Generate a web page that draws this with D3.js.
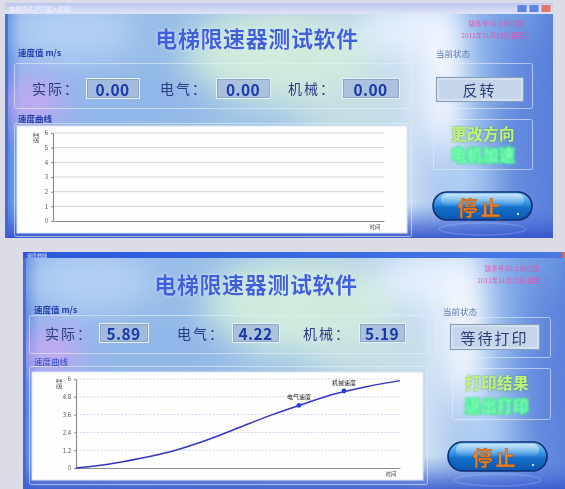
<!DOCTYPE html>
<html>
<head>
<meta charset="utf-8">
<script src="https://cdn.jsdelivr.net/npm/d3@7"></script>
<style>
  html, body { margin: 0; padding: 0; background: #dcdce6; overflow: hidden; }
  svg { display: block; }
  text { font-family: 'Noto Sans CJK SC', 'Noto Sans', sans-serif; }
</style>
</head>
<body>
<div id="chart"></div>
<script>
// ---- data ----
const speedNames = ['实际：', '电气：', '机械：'];
const speedsIdle = [0.00, 0.00, 0.00];
const speedsDone = [5.89, 4.22, 5.19];
const states = ['反转', '等待打印'];
const menuIdle = ['更改方向', '电机加速'];
const menuDone = ['打印结果', '退出打印'];
const yTicksIdle = [0, 1, 2, 3, 4, 5, 6];
const yTicksDone = [0, 1.2, 2.4, 3.6, 4.8, 6];
const curveTime = [0, 10, 20, 30, 40, 50, 60, 70, 80, 90, 100];
const curveSpeed = [0, 0.25, 0.65, 1.15, 1.85, 2.7, 3.55, 4.3, 5.0, 5.5, 5.89];
const markerNames = ['电气速度', '机械速度'];
const markerTime = [68.8, 82.7];
const markerSpeed = [4.22, 5.19];

const TITLE = '电梯限速器测试软件';
const PINK = ['版本号 V2.1 测试版', '2011年11月15日 星期二'];

// ---- layout of the two windows (pixel positions) ----
const LAYOUTS = [
  {
    win: [5, 3, 548, 235], barH: 11, barDark: false, barText: '电梯测试 (PCI插入位置)',
    titleX: 257, titleY: 37, pinkX: 496, pinkY: [23, 35],
    speedLabel: [18, 56], speedBox: [14, 63, 397, 45],
    rowY: 88, nameX: [32, 160, 288], valBox: [[86, 139], [216, 270], [342, 399]], valTop: 78, valH: 20,
    stateLabel: [436, 57], stateGroup: [424, 63, 108, 45], stateBox: [436, 77, 87, 24],
    chartLabel: [18, 122], chartFrame: [14, 123, 397, 113], chartBox: [17, 126, 390, 107],
    plot: [53, 133, 384, 221],
    menuBox: [433, 119, 99, 50], menuX: 483, menuY: [133, 154],
    button: [433, 192, 99, 28]
  },
  {
    win: [23, 252, 552, 240], barH: 6, barDark: true, barText: '速度曲线',
    titleX: 256, titleY: 283, pinkX: 512, pinkY: [268, 280],
    speedLabel: [34, 313], speedBox: [29, 315, 398, 38],
    rowY: 333, nameX: [45, 177, 303], valBox: [[99, 148], [232, 279], [359, 405]], valTop: 323, valH: 19,
    stateLabel: [443, 315], stateGroup: [436, 317, 114, 40], stateBox: [450, 324, 89, 25],
    chartLabel: [34, 365], chartFrame: [29, 366, 398, 118], chartBox: [32, 372, 391, 108],
    plot: [76, 379, 400, 468],
    menuBox: [452, 368, 98, 51], menuX: 497, menuY: [382, 405],
    button: [448, 442, 99, 29]
  }
];

const svg = d3.select('#chart').append('svg')
  .attr('width', 565).attr('height', 489);

const defs = svg.append('defs');

defs.append('filter').attr('id', 'soft')
  .attr('x', '-60%').attr('y', '-60%').attr('width', '220%').attr('height', '220%')
  .append('feGaussianBlur').attr('stdDeviation', 16);

defs.append('filter').attr('id', 'smallBlur')
  .append('feGaussianBlur').attr('stdDeviation', 0.45);

// title glow
const tg = defs.append('filter').attr('id', 'titleGlow')
  .attr('x', '-20%').attr('y', '-40%').attr('width', '140%').attr('height', '180%');
tg.append('feGaussianBlur').attr('in', 'SourceAlpha').attr('stdDeviation', 1.8).attr('result', 'b');
tg.append('feFlood').attr('flood-color', '#e6f0ff').attr('flood-opacity', 0.9);
tg.append('feComposite').attr('in2', 'b').attr('operator', 'in').attr('result', 'glow');
tg.append('feGaussianBlur').attr('in', 'SourceGraphic').attr('stdDeviation', 0.4).attr('result', 's');
const tgm = tg.append('feMerge');
tgm.append('feMergeNode').attr('in', 'glow');
tgm.append('feMergeNode').attr('in', 's');

// green glow for menu text
const gg = defs.append('filter').attr('id', 'greenGlow')
  .attr('x', '-20%').attr('y', '-40%').attr('width', '140%').attr('height', '180%');
gg.append('feGaussianBlur').attr('in', 'SourceAlpha').attr('stdDeviation', 1.2).attr('result', 'b');
gg.append('feFlood').attr('flood-color', '#2f8f55').attr('flood-opacity', 0.8);
gg.append('feComposite').attr('in2', 'b').attr('operator', 'in').attr('result', 'glow');
gg.append('feGaussianBlur').attr('in', 'SourceGraphic').attr('stdDeviation', 0.35).attr('result', 's');
const ggm = gg.append('feMerge');
ggm.append('feMergeNode').attr('in', 'glow');
ggm.append('feMergeNode').attr('in', 's');

const bright = defs.append('filter').attr('id', 'brightGlow')
  .attr('x', '-20%').attr('y', '-50%').attr('width', '140%').attr('height', '200%');
bright.append('feMorphology').attr('in', 'SourceAlpha').attr('operator', 'dilate').attr('radius', 1.4).attr('result', 'd');
bright.append('feGaussianBlur').attr('in', 'd').attr('stdDeviation', 1.1).attr('result', 'b');
bright.append('feFlood').attr('flood-color', '#36e48a');
bright.append('feComposite').attr('in2', 'b').attr('operator', 'in').attr('result', 'glow');
bright.append('feGaussianBlur').attr('in', 'SourceGraphic').attr('stdDeviation', 0.8).attr('result', 's');
const bm = bright.append('feMerge');
bm.append('feMergeNode').attr('in', 'glow');
bm.append('feMergeNode').attr('in', 's');

// gradients
function linear(id, stops, vertical) {
  const gr = defs.append('linearGradient').attr('id', id)
    .attr('x1', 0).attr('y1', 0).attr('x2', vertical ? 0 : 1).attr('y2', vertical ? 1 : 0);
  stops.forEach(s => gr.append('stop').attr('offset', s[0]).attr('stop-color', s[1])
    .attr('stop-opacity', s[2] === undefined ? 1 : s[2]));
}
linear('winBase', [[0, '#4f7ee0'], [0.03, '#8cb2ea'], [0.3, '#98bee8'], [0.55, '#a6c8e6'],
  [0.74, '#c8dcf2'], [0.84, '#8ab2ea'], [0.96, '#6c98e2'], [1, '#5a84da']]);
linear('winShade', [[0, '#ffffff', 0], [0.85, '#5d86dc', 0], [0.95, '#4464d4', 0.7], [1, '#3050c8', 0.9]], true);
linear('barLight', [[0, '#bac6ee'], [1, '#dfe4f6']], true);
linear('barDark', [[0, '#2a58d8'], [1, '#4b7ae6']], false);
linear('pill', [[0, '#8fd0f8'], [0.45, '#2d8ade'], [0.55, '#1670c8'], [1, '#0b56b0']], true);
linear('gloss', [[0, '#ffffff', 0.55], [1, '#ffffff', 0.05]], true);

// ---- drawing helpers ----
function drawWindow(L, i) {
  const [wx, wy, ww, wh] = L.win;
  const g = svg.append('g');
  const clipId = 'clip' + i;
  defs.append('clipPath').attr('id', clipId)
    .append('rect').attr('x', wx).attr('y', wy).attr('width', ww).attr('height', wh);
  g.attr('clip-path', `url(#${clipId})`);

  g.append('rect').attr('x', wx).attr('y', wy).attr('width', ww).attr('height', wh)
    .attr('fill', 'url(#winBase)');

  // soft colour blobs of the skin
  const blobs = [
    [0.50, 0.22, 0.17, 0.20, '#d4f0dc', 0.9],
    [0.62, 0.42, 0.10, 0.18, '#cfe8e0', 0.6],
    [0.12, 0.12, 0.12, 0.13, '#c4dcf6', 0.7],
    [0.80, 0.30, 0.04, 0.35, '#ffffff', 0.95],
    [0.72, 0.12, 0.08, 0.10, '#eef6ff', 0.8],
    [0.05, 0.42, 0.06, 0.10, '#d8a6f2', 0.8],
    [0.30, 0.40, 0.10, 0.10, '#8aaee8', 0.5],
    [0.96, 0.55, 0.05, 0.45, '#5676d8', 0.6],
    [0.84, 0.75, 0.03, 0.20, '#dcecff', 0.6]
  ];
  g.append('g').attr('filter', 'url(#soft)')
    .selectAll('ellipse').data(blobs).join('ellipse')
    .attr('cx', d => wx + d[0] * ww).attr('cy', d => wy + d[1] * wh)
    .attr('rx', d => d[2] * ww).attr('ry', d => d[3] * wh)
    .attr('fill', d => d[4]).attr('opacity', d => d[5]);

  g.append('rect').attr('x', wx).attr('y', wy).attr('width', ww).attr('height', wh)
    .attr('fill', 'url(#winShade)');
  g.append('rect').attr('x', wx).attr('y', wy).attr('width', 3).attr('height', wh)
    .attr('fill', '#3f66d6').attr('opacity', 0.8);

  // title bar
  g.append('rect').attr('x', wx).attr('y', wy).attr('width', ww).attr('height', L.barH)
    .attr('fill', L.barDark ? 'url(#barDark)' : 'url(#barLight)');
  g.append('text').attr('x', wx + 4).attr('y', wy + L.barH - (L.barDark ? 1 : 3))
    .attr('font-size', L.barDark ? 5 : 6).attr('fill', L.barDark ? '#e8eeff' : '#f4f6ff')
    .text(L.barText);
  if (!L.barDark) {
    const bx = [wx + ww - 36, wx + ww - 24, wx + ww - 12];
    g.selectAll('rect.btn').data(bx).join('rect').attr('class', 'btn')
      .attr('x', d => d).attr('y', wy + 1.5).attr('width', 10).attr('height', 8).attr('rx', 1)
      .attr('fill', (d, k) => k === 2 ? '#e07a66' : '#5c84e0')
      .attr('stroke', '#f2f4ff').attr('stroke-width', 0.6);
  } else {
    g.append('rect').attr('x', 562).attr('y', wy).attr('width', 4).attr('height', L.barH)
      .attr('fill', '#d86a58');
  }
  return g;
}

function drawHeader(g, L) {
  g.append('text').attr('x', L.titleX).attr('y', L.titleY).attr('text-anchor', 'middle')
    .attr('dominant-baseline', 'central').attr('font-size', 22).attr('font-weight', 'bold')
    .attr('letter-spacing', 0.6).attr('fill', '#3d60dc').attr('filter', 'url(#titleGlow)')
    .text(TITLE);
  g.selectAll('text.pink').data(PINK).join('text').attr('class', 'pink')
    .attr('x', L.pinkX).attr('y', (d, k) => L.pinkY[k]).attr('text-anchor', 'middle')
    .attr('dominant-baseline', 'central').attr('font-size', 6.5).attr('fill', '#f04aa8')
    .attr('opacity', 0.85).attr('filter', 'url(#smallBlur)')
    .text(d => d);
}

function groupBox(g, r) {
  g.append('rect').attr('x', r[0] + 0.5).attr('y', r[1] + 0.5).attr('width', r[2]).attr('height', r[3])
    .attr('rx', 2).attr('fill', 'none').attr('stroke', '#e6eefa').attr('stroke-opacity', 0.6);
}

function drawSpeeds(g, L, values) {
  groupBox(g, L.speedBox);
  g.append('text').attr('x', L.speedLabel[0]).attr('y', L.speedLabel[1])
    .attr('font-size', 8.5).attr('font-weight', 'bold').attr('fill', '#1e3ca8').text('速度值 m/s');

  g.selectAll('text.name').data(speedNames).join('text').attr('class', 'name')
    .attr('x', (d, k) => L.nameX[k]).attr('y', L.rowY).attr('dominant-baseline', 'central')
    .attr('font-size', 14).attr('letter-spacing', 2).attr('fill', '#2a3c86').text(d => d);

  const boxes = g.selectAll('g.val').data(values).join('g').attr('class', 'val');
  boxes.append('rect')
    .attr('x', (d, k) => L.valBox[k][0] + 0.5).attr('y', L.valTop + 0.5)
    .attr('width', (d, k) => L.valBox[k][1] - L.valBox[k][0]).attr('height', L.valH)
    .attr('fill', '#a6bcdc').attr('fill-opacity', 0.85)
    .attr('stroke', '#e8f0fa').attr('stroke-width', 1);
  boxes.append('rect')
    .attr('x', (d, k) => L.valBox[k][0] + 1.5).attr('y', L.valTop + 1.5)
    .attr('width', (d, k) => L.valBox[k][1] - L.valBox[k][0] - 2).attr('height', L.valH - 2)
    .attr('fill', 'none').attr('stroke', '#7e96bc').attr('stroke-width', 0.6);
  boxes.append('text')
    .attr('x', (d, k) => (L.valBox[k][0] + L.valBox[k][1]) / 2).attr('y', L.valTop + L.valH / 2 + 0.5)
    .attr('text-anchor', 'middle').attr('dominant-baseline', 'central')
    .attr('font-family', 'Liberation Sans, Arial, sans-serif').attr('font-weight', 'bold')
    .attr('font-size', 15.5).attr('letter-spacing', 0.4).attr('fill', '#1a38aa')
    .text(d => d3.format('.2f')(d));
}

function drawState(g, L, label) {
  groupBox(g, L.stateGroup);
  g.append('text').attr('x', L.stateLabel[0]).attr('y', L.stateLabel[1])
    .attr('font-size', 8.5).attr('fill', '#5b78b4').text('当前状态');
  const [sx, sy, sw, sh] = L.stateBox;
  g.append('rect').attr('x', sx + 0.5).attr('y', sy + 0.5).attr('width', sw).attr('height', sh)
    .attr('fill', '#c6d6ea').attr('stroke', '#8a9ebe').attr('stroke-width', 1.2);
  g.append('rect').attr('x', sx + 2).attr('y', sy + 2).attr('width', sw - 3).attr('height', sh - 3)
    .attr('fill', 'none').attr('stroke', '#eef4fb').attr('stroke-width', 0.8);
  g.append('text').attr('x', sx + sw / 2).attr('y', sy + sh / 2 + 0.5)
    .attr('text-anchor', 'middle').attr('dominant-baseline', 'central')
    .attr('font-size', 15).attr('letter-spacing', 2).attr('fill', '#2c3c78').text(label);
}

function drawMenu(g, L, items) {
  groupBox(g, L.menuBox);
  g.append('text').attr('x', L.menuX).attr('y', L.menuY[0]).attr('text-anchor', 'middle')
    .attr('dominant-baseline', 'central').attr('font-size', 15.5).attr('font-weight', 'bold')
    .attr('letter-spacing', 0.5)
    .attr('fill', '#c2f27a').attr('filter', 'url(#greenGlow)').text(items[0]);
  g.append('text').attr('x', L.menuX).attr('y', L.menuY[1]).attr('text-anchor', 'middle')
    .attr('dominant-baseline', 'central').attr('font-size', 15.5).attr('font-weight', 'bold')
    .attr('letter-spacing', 0.5)
    .attr('fill', '#7effb8').attr('filter', 'url(#brightGlow)').text(items[1]);
}

function drawButton(g, L) {
  const [bx, by, bw, bh] = L.button;
  g.append('ellipse').attr('cx', bx + bw / 2).attr('cy', by + bh + 9).attr('rx', bw / 2 - 6).attr('ry', 6)
    .attr('fill', 'none').attr('stroke', '#dce8ff').attr('stroke-opacity', 0.2).attr('stroke-width', 1.5);
  g.append('rect').attr('x', bx).attr('y', by).attr('width', bw).attr('height', bh)
    .attr('rx', bh / 2).attr('fill', 'url(#pill)').attr('stroke', '#0c2c74').attr('stroke-width', 1.6);
  g.append('rect').attr('x', bx + 8).attr('y', by + 2).attr('width', bw - 16).attr('height', bh * 0.42)
    .attr('rx', bh * 0.2).attr('fill', 'url(#gloss)');
  g.append('text').attr('x', bx + bw / 2 - 2).attr('y', by + bh / 2 + 1)
    .attr('text-anchor', 'middle').attr('dominant-baseline', 'central')
    .attr('font-size', 20).attr('font-weight', 'bold').attr('letter-spacing', 3)
    .attr('fill', '#f2801e').attr('stroke', '#9a4a10').attr('stroke-width', 0.3)
    .text('停止');
  g.append('circle').attr('cx', bx + bw - 14).attr('cy', by + bh - 6).attr('r', 1.1).attr('fill', '#ffffff');
}

function drawChart(g, L, ticks, withCurve) {
  groupBox(g, L.chartFrame);
  g.append('text').attr('x', L.chartLabel[0]).attr('y', L.chartLabel[1])
    .attr('font-size', 8.5).attr('font-weight', withCurve ? 'normal' : 'bold')
    .attr('fill', withCurve ? '#2444c4' : '#1e3ca8').text('速度曲线');
  const [cx, cy, cw, ch] = L.chartBox;
  g.append('rect').attr('x', cx).attr('y', cy).attr('width', cw).attr('height', ch)
    .attr('fill', '#fefefe').attr('stroke', '#dbe4f4').attr('stroke-width', 1);

  const [x0, y0, x1, y1] = L.plot;
  const x = d3.scaleLinear().domain([0, 100]).range([x0, x1]);
  const y = d3.scaleLinear().domain([0, 6]).range([y1, y0]);

  g.append('g').selectAll('line').data(ticks.filter(d => d > 0)).join('line')
    .attr('x1', x0).attr('x2', x1).attr('y1', d => y(d)).attr('y2', d => y(d))
    .attr('stroke', withCurve ? '#c4c6ea' : '#cfd1d8').attr('stroke-width', withCurve ? 0.8 : 1)
    .attr('stroke-dasharray', withCurve ? '2,1.5' : null);

  const yAxis = g.append('g').attr('transform', `translate(${x0},0)`)
    .call(d3.axisLeft(y).tickValues(ticks).tickSize(2).tickSizeOuter(0).tickFormat(d => String(d)));
  const xAxis = g.append('g').attr('transform', `translate(0,${y1})`)
    .call(d3.axisBottom(x).tickValues([]).tickSizeOuter(0));
  [yAxis, xAxis].forEach(a => {
    a.select('.domain').attr('stroke', '#8c8c94').attr('stroke-width', 1.2);
    a.selectAll('.tick line').attr('stroke', '#8c8c94');
    a.selectAll('.tick text').attr('font-size', 6).attr('fill', '#555')
      .attr('font-family', 'DejaVu Sans, sans-serif');
  });

  g.append('text').attr('transform', `translate(${x0 - 17},${y0 + 5}) rotate(-90)`)
    .attr('text-anchor', 'middle').attr('dominant-baseline', 'central')
    .attr('font-size', 5.5).attr('fill', '#444').text('速度');
  g.append('text').attr('x', x1 - 9).attr('y', y1 + 6).attr('text-anchor', 'middle')
    .attr('dominant-baseline', 'central').attr('font-size', 5.5).attr('fill', '#444').text('时间');

  if (!withCurve) return;

  const pts = curveTime.map((t, k) => [t, curveSpeed[k]]);
  g.append('path').datum(pts)
    .attr('d', d3.line().x(d => x(d[0])).y(d => y(d[1])).curve(d3.curveMonotoneX))
    .attr('fill', 'none').attr('stroke', '#3434c4').attr('stroke-width', 1.5);

  const mk = g.selectAll('g.mk').data(markerNames).join('g').attr('class', 'mk');
  mk.append('circle').attr('cx', (d, k) => x(markerTime[k])).attr('cy', (d, k) => y(markerSpeed[k]))
    .attr('r', 2.4).attr('fill', '#2040e0');
  mk.append('text').attr('x', (d, k) => x(markerTime[k])).attr('y', (d, k) => y(markerSpeed[k]) - 6)
    .attr('text-anchor', 'middle').attr('font-size', 6).attr('fill', '#222').text(d => d);
}

// ---- draw both screenshots ----
const panels = [
  { values: speedsIdle, state: states[0], menu: menuIdle, ticks: yTicksIdle, curve: false },
  { values: speedsDone, state: states[1], menu: menuDone, ticks: yTicksDone, curve: true }
];

panels.forEach((p, i) => {
  const L = LAYOUTS[i];
  const g = drawWindow(L, i);
  drawHeader(g, L);
  drawSpeeds(g, L, p.values);
  drawState(g, L, p.state);
  drawChart(g, L, p.ticks, p.curve);
  drawMenu(g, L, p.menu);
  drawButton(g, L);
});
</script>
</body>
</html>
